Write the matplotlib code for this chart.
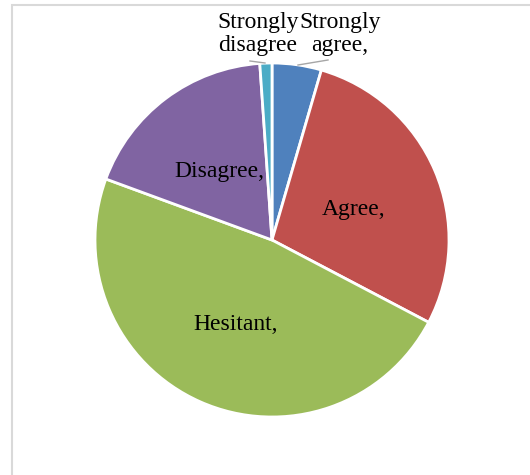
import matplotlib
matplotlib.use('Agg')
import matplotlib.pyplot as plt
from matplotlib.patches import Rectangle

categories = ['Strongly agree', 'Agree', 'Hesitant', 'Disagree', 'Strongly disagree']
shares = [4.5, 28.2, 47.9, 18.3, 1.1]
label_texts = ['Strongly\nagree,', 'Agree,', 'Hesitant,', 'Disagree,', 'Strongly\ndisagree']
colors = ['#4f81bd', '#c0504d', '#9bbb59', '#8064a2', '#4bacc6']

# label positions in pixel coords (y up)
label_pos = [(340, 441), (354, 265), (236, 150), (219, 303), (258, 441)]

fig = plt.figure(figsize=(5.3, 4.75), dpi=100)
ax = fig.add_axes([0, 0, 1, 1])
ax.set_xlim(0, 530)
ax.set_ylim(0, 475)
ax.axis('off')

# chart frame
ax.add_patch(Rectangle((12, -10), 540, 480, fill=False, ec='#d9d9d9', lw=1.5))

wedges, _ = ax.pie(shares, colors=colors, startangle=90, counterclock=False,
                   center=(272, 235), radius=177,
                   wedgeprops=dict(edgecolor='white', linewidth=2))
ax.set_aspect('equal')
ax.set_xlim(0, 530)
ax.set_ylim(0, 475)

for txt, (x, y) in zip(label_texts, label_pos):
    ax.text(x, y, txt, ha='center', va='center', fontsize=17,
            family='Liberation Serif', linespacing=1.12)

# leader lines
ax.plot([250, 265], [414, 412], color='#a6a6a6', lw=1)
ax.plot([298, 328], [410, 415], color='#a6a6a6', lw=1)

fig.savefig('out.png', dpi=100)
